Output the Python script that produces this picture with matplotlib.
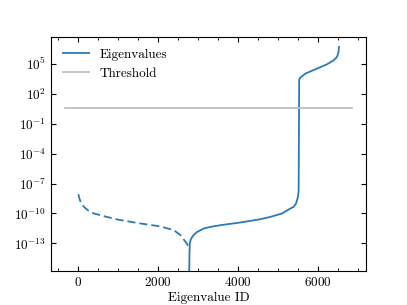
import matplotlib
matplotlib.use("Agg")

import matplotlib.pyplot as plt
from matplotlib.ticker import AutoMinorLocator, NullLocator
import numpy as np

# negative eigenvalues (shown as |value|, dashed), log10
neg_idx = [0, 25, 58, 110, 183, 280, 390, 640, 975, 1475, 2058, 2390, 2558, 2683, 2730, 2758]
neg_log = [-8.07, -8.5, -8.84, -9.2, -9.5, -9.8, -10.0, -10.27, -10.6, -10.95, -11.3, -11.67,
           -12.17, -12.84, -13.1, -13.5]

# positive eigenvalues (solid)
pos_idx = [2772, 2782, 2790, 2810, 2850, 2900, 2975, 3140, 3308, 3558, 4058, 4558, 4808, 5100,
           5308, 5390, 5450, 5475, 5500, 5515, 5528, 5540, 5558, 5683, 5975, 6225, 6390, 6460,
           6490, 6515, 6525]
pos_log = [-17.0, -13.8, -13.0, -12.65, -12.34, -12.1, -11.84, -11.5, -11.34, -11.17, -10.9,
           -10.57, -10.34, -10.0, -9.5, -9.34, -9.0, -8.67, -8.3, -7.7, 3.33, 3.5, 3.6, 4.0,
           4.5, 4.93, 5.33, 5.6, 5.83, 6.2, 6.67]

threshold_x = [-330, 6850]
threshold_y = [4.0, 4.0]

y_ticks = [-13, -10, -7, -4, -1, 2, 5]

plt.rcParams["font.family"] = "cmr10"
plt.rcParams["mathtext.fontset"] = "cm"
plt.rcParams["axes.formatter.use_mathtext"] = True
plt.rcParams["font.size"] = 9.5

fig, ax = plt.subplots(figsize=(4.07, 3.05), dpi=100)

ax.plot(neg_idx, 10.0 ** np.array(neg_log), color="#2a7ab9", linestyle="--", linewidth=1.3,
        dashes=(4.5, 2.2))
ax.plot(pos_idx, 10.0 ** np.array(pos_log), color="#2a7ab9", linewidth=1.3, label="Eigenvalues")
ax.plot(threshold_x, threshold_y, color="#c0c0c0", linewidth=1.3, label="Threshold")

ax.set_yscale("log")
ax.set_yticks([10.0 ** e for e in y_ticks])
ax.yaxis.set_minor_locator(NullLocator())
ax.set_ylim(10 ** -15.8, 10 ** 7.7)
ax.xaxis.set_minor_locator(AutoMinorLocator())
ax.tick_params(which="both", direction="in", top=True, right=True)

ax.set_xlabel("Eigenvalue ID", labelpad=2)
ax.legend(loc="upper left", frameon=False)

plt.subplots_adjust(left=0.125, right=0.9, bottom=0.11, top=0.88)
plt.savefig("out.png", dpi=100)
